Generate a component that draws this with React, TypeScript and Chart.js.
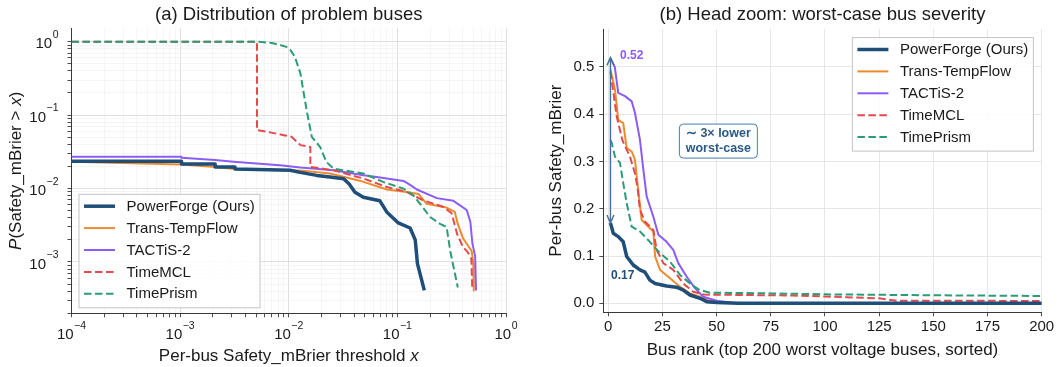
import React, { useEffect, useRef } from 'react';
import { Chart, registerables } from 'chart.js';

Chart.register(...registerables);

const FONT = '"Liberation Sans", Arial, Helvetica, sans-serif';
const TEXT = '#1a1a1a';

// ---------- series meta ----------
const SERIES = ['PowerForge (Ours)', 'Trans-TempFlow', 'TACTiS-2', 'TimeMCL', 'TimePrism'];
const COLORS = ['#1f4e79', '#ec8b2e', '#8b5cf6', '#e5484d', '#2a9d74'];
const LINE_WIDTHS = [3.5, 2, 2, 2, 2];
const DASHED = [false, false, false, true, true];
const DRAW_ORDER = [0, 4, 3, 2, 1];

// ---------- panel (a): CCDF P(Safety_mBrier > x) ----------
const A_PF_X = [1e-4, 1.03e-3, 1.03e-3, 2.1e-3, 2.1e-3, 3.2e-3, 3.2e-3, 0.0103, 0.0127, 0.0181, 0.024, 0.032, 0.036, 0.0407, 0.0486, 0.069, 0.0798, 0.102, 0.131, 0.146, 0.153, 0.177];
const A_PF_Y = [0.0236, 0.0236, 0.0215, 0.0215, 0.0197, 0.0197, 0.0185, 0.0177, 0.0166, 0.0151, 0.0144, 0.0136, 0.0115, 0.0089, 0.0076, 0.0068, 0.0048, 0.0034, 0.0029, 0.002, 0.00095, 0.00041];

const A_TT_X = [1e-4, 1.03e-3, 2.1e-3, 3.2e-3, 0.0103, 0.0136, 0.024, 0.045, 0.08, 0.121, 0.157, 0.186, 0.283, 0.338, 0.36, 0.402, 0.484, 0.5, 0.505];
const A_TT_Y = [0.0232, 0.0212, 0.0196, 0.0184, 0.0178, 0.0175, 0.016, 0.0128, 0.0097, 0.009, 0.0084, 0.0062, 0.0055, 0.0048, 0.0033, 0.0021, 0.0014, 0.00095, 0.00041];

const A_TS_X = [1e-4, 1.03e-3, 1.03e-3, 2.1e-3, 3.1e-3, 4.4e-3, 8.3e-3, 0.0128, 0.0258, 0.0486, 0.0646, 0.114, 0.131, 0.151, 0.231, 0.328, 0.435, 0.47, 0.49, 0.52, 0.53];
const A_TS_Y = [0.027, 0.027, 0.0262, 0.0244, 0.0232, 0.0223, 0.0208, 0.0193, 0.0178, 0.0152, 0.0144, 0.0127, 0.0112, 0.0097, 0.0074, 0.0068, 0.0051, 0.0035, 0.0018, 0.0012, 0.00041];

const A_MCL_X = [1e-4, 5.1e-3, 5.1e-3, 6.3e-3, 9.0e-3, 0.0106, 0.0128, 0.0158, 0.0158, 0.0258, 0.0486, 0.08, 0.121, 0.173, 0.266, 0.316, 0.355, 0.402, 0.444, 0.48, 0.49];
const A_MCL_Y = [1, 1, 0.0624, 0.0593, 0.0533, 0.0506, 0.039, 0.0369, 0.0197, 0.0177, 0.0137, 0.0105, 0.009, 0.0069, 0.0056, 0.0046, 0.0024, 0.0016, 0.00136, 0.0011, 0.00041];

const A_TP_X = [1e-4, 5.1e-3, 7e-3, 8.3e-3, 9.5e-3, 0.0103, 0.0114, 0.0128, 0.0146, 0.0163, 0.0194, 0.0222, 0.0258, 0.0486, 0.074, 0.113, 0.14, 0.162, 0.2, 0.247, 0.284, 0.307, 0.36];
const A_TP_Y = [1, 1, 0.96, 0.9, 0.85, 0.78, 0.62, 0.37, 0.117, 0.0506, 0.037, 0.023, 0.0187, 0.016, 0.0123, 0.01, 0.0081, 0.0062, 0.0041, 0.0033, 0.003, 0.0014, 0.00045];

const A_X = [A_PF_X, A_TT_X, A_TS_X, A_MCL_X, A_TP_X];
const A_Y = [A_PF_Y, A_TT_Y, A_TS_Y, A_MCL_Y, A_TP_Y];

const A_X_EXPONENTS = [-4, -3, -2, -1, 0];
const A_Y_EXPONENTS = [-3, -2, -1, 0];

// ---------- panel (b): sorted per-bus severity ----------
const B_PF_RANK = [1, 2.3, 4.6, 6.9, 8.5, 11.5, 14.6, 16.9, 19.2, 21.6, 26.9, 31.5, 34.6, 37.7, 42.3, 45.4, 50, 60, 200];
const B_PF_VAL = [0.17, 0.148, 0.141, 0.13, 0.099, 0.081, 0.0706, 0.066, 0.049, 0.042, 0.0367, 0.034, 0.028, 0.0176, 0.0106, 0.0035, 0.0015, 0.0003, 0];

const B_TT_RANK = [1, 3.1, 4.6, 6.9, 8.5, 10.8, 12.3, 13.8, 15.4, 18.5, 20.8, 21.6, 23.9, 28.5, 33.1, 37.7, 42.3, 46, 55, 200];
const B_TT_VAL = [0.494, 0.452, 0.388, 0.381, 0.328, 0.321, 0.304, 0.24, 0.176, 0.162, 0.152, 0.099, 0.0706, 0.053, 0.035, 0.021, 0.014, 0.006, 0.001, 0];

const B_TS_RANK = [1, 3, 4.6, 7.7, 10.8, 12.3, 14.6, 16.2, 17.7, 20.8, 23.1, 26.9, 30, 32.3, 36.2, 40, 43.8, 50, 57.7, 200];
const B_TS_VAL = [0.518, 0.5, 0.445, 0.438, 0.427, 0.403, 0.346, 0.282, 0.226, 0.183, 0.145, 0.13, 0.113, 0.085, 0.056, 0.032, 0.014, 0.0055, 0.0013, 0.0002];

const B_MCL_RANK = [1, 3.9, 6.5, 10, 12.3, 13.5, 14.6, 16.9, 20.8, 22.3, 25.4, 30, 34.6, 39.2, 44, 85, 110, 125, 133, 200];
const B_MCL_VAL = [0.49, 0.395, 0.345, 0.31, 0.275, 0.245, 0.198, 0.173, 0.155, 0.113, 0.085, 0.0706, 0.042, 0.0246, 0.0185, 0.0165, 0.013, 0.0106, 0.0055, 0.005];

const B_TP_RANK = [1, 1.6, 3.1, 5.4, 6.9, 8.5, 10.8, 14.6, 19.2, 23.9, 28.5, 33.1, 38.5, 42.3, 46.9, 75, 100, 150, 200];
const B_TP_VAL = [0.345, 0.339, 0.31, 0.297, 0.254, 0.212, 0.162, 0.152, 0.13, 0.106, 0.088, 0.06, 0.039, 0.028, 0.0225, 0.021, 0.019, 0.017, 0.0155];

const B_RANK = [B_PF_RANK, B_TT_RANK, B_TS_RANK, B_MCL_RANK, B_TP_RANK];
const B_VAL = [B_PF_VAL, B_TT_VAL, B_TS_VAL, B_MCL_VAL, B_TP_VAL];

const B_X_TICKS = [0, 25, 50, 75, 100, 125, 150, 175, 200];
const B_Y_TICKS = [0, 0.1, 0.2, 0.3, 0.4, 0.5];

// annotations (data coordinates)
const ARROW_RANK = 1;
const ARROW_FROM = 0.52;
const ARROW_TO = 0.17;
const PEAK_TOP = { text: '0.52', rank: 5.4, value: 0.524 };
const PEAK_OURS = { text: '0.17', rank: 1.25, value: 0.058 };
const CALLOUT_LINES = ['\u223C 3\u00D7 lower', 'worst-case'];
const CALLOUT_RANK = 50.8;
const CALLOUT_VALUE = 0.343;

// ---------- helpers ----------
function logTicks(min: number, max: number) {
  const t: any[] = [];
  for (let e = -6; e <= 1; e++) {
    for (let m = 1; m <= 9; m++) {
      const v = m * Math.pow(10, e);
      if (v >= min * 0.9999 && v <= max * 1.0001) t.push({ value: v, major: m === 1 });
    }
  }
  return t;
}

function drawRich(ctx: CanvasRenderingContext2D, segs: { t: string; it?: boolean }[], cx: number, cy: number, size: number, rotate = false) {
  ctx.save();
  ctx.translate(cx, cy);
  if (rotate) ctx.rotate(-Math.PI / 2);
  const fonts = segs.map((s) => `${s.it ? 'italic ' : ''}${size}px ${FONT}`);
  const widths = segs.map((s, i) => {
    ctx.font = fonts[i];
    return ctx.measureText(s.t).width;
  });
  const total = widths.reduce((a, b) => a + b, 0);
  let x = -total / 2;
  ctx.textBaseline = 'middle';
  ctx.textAlign = 'left';
  ctx.fillStyle = TEXT;
  segs.forEach((s, i) => {
    ctx.font = fonts[i];
    ctx.fillText(s.t, x, 0);
    x += widths[i];
  });
  ctx.restore();
}

function drawPower(ctx: CanvasRenderingContext2D, exp: number, x: number, y: number, align: 'center' | 'right') {
  const base = '10';
  const sup = exp < 0 ? '\u2212' + Math.abs(exp) : String(exp);
  ctx.font = `15px ${FONT}`;
  const wb = ctx.measureText(base).width;
  ctx.font = `10.5px ${FONT}`;
  const ws = ctx.measureText(sup).width;
  const total = wb + ws + 0.5;
  const x0 = align === 'center' ? x - total / 2 : x - total;
  ctx.textBaseline = 'middle';
  ctx.textAlign = 'left';
  ctx.fillStyle = TEXT;
  ctx.font = `15px ${FONT}`;
  ctx.fillText(base, x0, y);
  ctx.font = `10.5px ${FONT}`;
  ctx.fillText(sup, x0 + wb + 0.5, y - 9);
}

function legendPlugin(boxX: number, boxY: number) {
  return {
    id: 'boxLegend',
    afterDraw(chart: any) {
      const ctx: CanvasRenderingContext2D = chart.ctx;
      const w = 182, h = 114.5, rowH = 21.9, first = 12.4;
      ctx.save();
      ctx.fillStyle = 'rgba(255,255,255,0.85)';
      ctx.strokeStyle = '#c4c4c4';
      ctx.lineWidth = 1;
      ctx.fillRect(boxX, boxY, w, h);
      ctx.strokeRect(boxX + 0.5, boxY + 0.5, w - 1, h - 1);
      chart.data.datasets.forEach((ds: any, i: number) => {
        const y = boxY + first + rowH * i;
        ctx.beginPath();
        ctx.strokeStyle = ds.borderColor;
        ctx.lineWidth = ds.borderWidth;
        ctx.setLineDash(ds.borderDash || []);
        ctx.lineCap = 'butt';
        ctx.moveTo(boxX + 5.5, y);
        ctx.lineTo(boxX + 36.5, y);
        ctx.stroke();
        ctx.setLineDash([]);
        ctx.fillStyle = TEXT;
        ctx.font = `15px ${FONT}`;
        ctx.textBaseline = 'middle';
        ctx.textAlign = 'left';
        ctx.fillText(ds.label, boxX + 48, y + 0.5);
      });
      ctx.restore();
    },
  };
}

function makeDatasets(xs: number[][], ys: number[][]) {
  return SERIES.map((name, i) => ({
    label: name,
    data: xs[i].map((x, j) => ({ x, y: ys[i][j] })),
    borderColor: COLORS[i],
    backgroundColor: COLORS[i],
    borderWidth: LINE_WIDTHS[i],
    borderDash: DASHED[i] ? [7.5, 3.5] : [],
    borderCapStyle: 'butt',
    borderJoinStyle: 'round',
    pointRadius: 0,
    tension: 0,
    fill: false,
    order: DRAW_ORDER[i],
  }));
}

const MAJOR_GRID = '#dcdcdc';
const MINOR_GRID = '#eeeeee';
const SPINE = '#3a3a3a';

// ---------- panel (a) ----------
function makeLeft(canvas: HTMLCanvasElement) {
  const textPlugin = {
    id: 'aTexts',
    afterDraw(chart: any) {
      const ctx: CanvasRenderingContext2D = chart.ctx;
      const { left, right, top, bottom } = chart.chartArea;
      const xs = chart.scales.x, ys = chart.scales.y;
      ctx.save();
      A_X_EXPONENTS.forEach((e) => drawPower(ctx, e, xs.getPixelForValue(Math.pow(10, e)), bottom + 22, 'center'));
      A_Y_EXPONENTS.forEach((e) => drawPower(ctx, e, left - 13, ys.getPixelForValue(Math.pow(10, e)) + 2.5, 'right'));
      drawRich(ctx, [{ t: '(a) Distribution of problem buses' }], (left + right) / 2, 15, 18.5);
      drawRich(ctx, [{ t: 'Per-bus Safety_mBrier threshold ' }, { t: 'x', it: true }], (left + right) / 2, 356, 17);
      drawRich(ctx, [{ t: 'P', it: true }, { t: '(Safety_mBrier > ' }, { t: 'x', it: true }, { t: ')' }], 16, (top + bottom) / 2, 17, true);
      ctx.restore();
    },
  };
  const gridOpts = {
    color: (c: any) => (c.tick && c.tick.major ? MAJOR_GRID : MINOR_GRID),
    lineWidth: (c: any) => (c.tick && c.tick.major ? 0.9 : 0.6),
    drawTicks: true,
    tickLength: 4,
    tickColor: SPINE,
    tickWidth: 0.9,
  };
  return new Chart(canvas, {
    type: 'line',
    data: { datasets: makeDatasets(A_X, A_Y) as any },
    options: {
      animation: false,
      responsive: false,
      maintainAspectRatio: false,
      events: [],
      layout: { padding: { left: 0, right: 23, top: 28.3, bottom: 0 } },
      plugins: { legend: { display: false }, tooltip: { enabled: false }, title: { display: false } },
      scales: {
        x: {
          type: 'logarithmic',
          min: 1e-4,
          max: 1,
          afterBuildTicks: (s: any) => { s.ticks = logTicks(1e-4, 1); },
          afterFit: (s: any) => { s.height = 53.7; },
          ticks: { display: false },
          grid: gridOpts as any,
          border: { display: true, color: SPINE, width: 1 },
        },
        y: {
          type: 'logarithmic',
          min: 2e-4,
          max: 1.52,
          afterBuildTicks: (s: any) => { s.ticks = logTicks(2e-4, 1.52); },
          afterFit: (s: any) => { s.width = 71.5; },
          ticks: { display: false },
          grid: gridOpts as any,
          border: { display: true, color: SPINE, width: 1 },
        },
      },
    },
    plugins: [textPlugin, legendPlugin(78.5, 193.8)],
  });
}

// ---------- panel (b) ----------
function makeRight(canvas: HTMLCanvasElement) {
  const annoPlugin = {
    id: 'bAnno',
    afterDraw(chart: any) {
      const ctx: CanvasRenderingContext2D = chart.ctx;
      const { left, right, top, bottom } = chart.chartArea;
      const xs = chart.scales.x, ys = chart.scales.y;
      ctx.save();
      // double arrow
      const ax = xs.getPixelForValue(ARROW_RANK);
      const y1 = ys.getPixelForValue(ARROW_FROM);
      const y2 = ys.getPixelForValue(ARROW_TO);
      ctx.strokeStyle = '#41709e';
      ctx.lineWidth = 1.4;
      ctx.beginPath();
      ctx.moveTo(ax, y1);
      ctx.lineTo(ax, y2);
      ctx.moveTo(ax - 3.5, y1 + 8);
      ctx.lineTo(ax, y1);
      ctx.lineTo(ax + 3.5, y1 + 8);
      ctx.moveTo(ax - 3.5, y2 - 8);
      ctx.lineTo(ax, y2);
      ctx.lineTo(ax + 3.5, y2 - 8);
      ctx.stroke();
      // peak labels
      ctx.textBaseline = 'middle';
      ctx.textAlign = 'left';
      ctx.font = `bold 12px ${FONT}`;
      ctx.fillStyle = COLORS[2];
      ctx.fillText(PEAK_TOP.text, xs.getPixelForValue(PEAK_TOP.rank), ys.getPixelForValue(PEAK_TOP.value));
      ctx.fillStyle = COLORS[0];
      ctx.fillText(PEAK_OURS.text, xs.getPixelForValue(PEAK_OURS.rank), ys.getPixelForValue(PEAK_OURS.value));
      // callout box
      const cx = xs.getPixelForValue(CALLOUT_RANK);
      const cy = ys.getPixelForValue(CALLOUT_VALUE);
      const bw = 78, bh = 34, r = 4;
      const bx = cx - bw / 2, by = cy - bh / 2;
      ctx.beginPath();
      ctx.moveTo(bx + r, by);
      ctx.arcTo(bx + bw, by, bx + bw, by + bh, r);
      ctx.arcTo(bx + bw, by + bh, bx, by + bh, r);
      ctx.arcTo(bx, by + bh, bx, by, r);
      ctx.arcTo(bx, by, bx + bw, by, r);
      ctx.closePath();
      ctx.fillStyle = '#ffffff';
      ctx.fill();
      ctx.strokeStyle = '#4b7bab';
      ctx.lineWidth = 1;
      ctx.stroke();
      ctx.fillStyle = '#2c5a87';
      ctx.font = `bold 12.5px ${FONT}`;
      ctx.textAlign = 'center';
      ctx.fillText(CALLOUT_LINES[0], cx, cy - 7.5);
      ctx.fillText(CALLOUT_LINES[1], cx, cy + 7.5);
      // titles
      drawRich(ctx, [{ t: '(b) Head zoom: worst-case bus severity' }], (left + right) / 2, 15, 18.5);
      drawRich(ctx, [{ t: 'Bus rank (top 200 worst voltage buses, sorted)' }], (left + right) / 2, 350, 17);
      drawRich(ctx, [{ t: 'Per-bus Safety_mBrier' }], 27, (top + bottom) / 2, 17, true);
      ctx.restore();
    },
  };
  const gridOpts = {
    color: '#e4e4e4',
    lineWidth: 0.9,
    drawTicks: true,
    tickLength: 4,
    tickColor: SPINE,
    tickWidth: 0.9,
  };
  return new Chart(canvas, {
    type: 'line',
    data: { datasets: makeDatasets(B_RANK, B_VAL) as any },
    options: {
      animation: false,
      responsive: false,
      maintainAspectRatio: false,
      events: [],
      layout: { padding: { left: 0, right: 16.3, top: 29, bottom: 0 } },
      plugins: { legend: { display: false }, tooltip: { enabled: false }, title: { display: false } },
      scales: {
        x: {
          type: 'linear',
          min: -2.3,
          max: 200,
          afterBuildTicks: (s: any) => { s.ticks = B_X_TICKS.map((v) => ({ value: v })); },
          afterFit: (s: any) => { s.height = 54.7; },
          ticks: { color: TEXT, font: { family: FONT, size: 15 }, padding: 2, autoSkip: false, maxRotation: 0, callback: (v: any) => String(v) },
          grid: gridOpts as any,
          border: { display: true, color: SPINE, width: 1 },
        },
        y: {
          type: 'linear',
          min: -0.019,
          max: 0.58,
          afterBuildTicks: (s: any) => { s.ticks = B_Y_TICKS.map((v) => ({ value: v })); },
          afterFit: (s: any) => { s.width = 74.3; },
          ticks: { color: TEXT, font: { family: FONT, size: 15 }, padding: 5, autoSkip: false, callback: (v: any) => Number(v).toFixed(1) },
          grid: gridOpts as any,
          border: { display: true, color: SPINE, width: 1 },
        },
      },
    },
    plugins: [annoPlugin, legendPlugin(851.9 - 529, 37.1)],
  });
}

export default function App() {
  const leftRef = useRef<HTMLCanvasElement>(null);
  const rightRef = useRef<HTMLCanvasElement>(null);
  useEffect(() => {
    document.body.style.margin = '0';
    const a = makeLeft(leftRef.current!);
    const b = makeRight(rightRef.current!);
    return () => {
      a.destroy();
      b.destroy();
    };
  }, []);
  return (
    <div style={{ position: 'fixed', left: 0, top: 0, width: 1058, height: 367, background: '#ffffff' }}>
      <canvas ref={leftRef} width={529} height={367} style={{ position: 'absolute', left: 0, top: 0, width: 529, height: 367 }} />
      <canvas ref={rightRef} width={529} height={367} style={{ position: 'absolute', left: 529, top: 0, width: 529, height: 367 }} />
    </div>
  );
}
